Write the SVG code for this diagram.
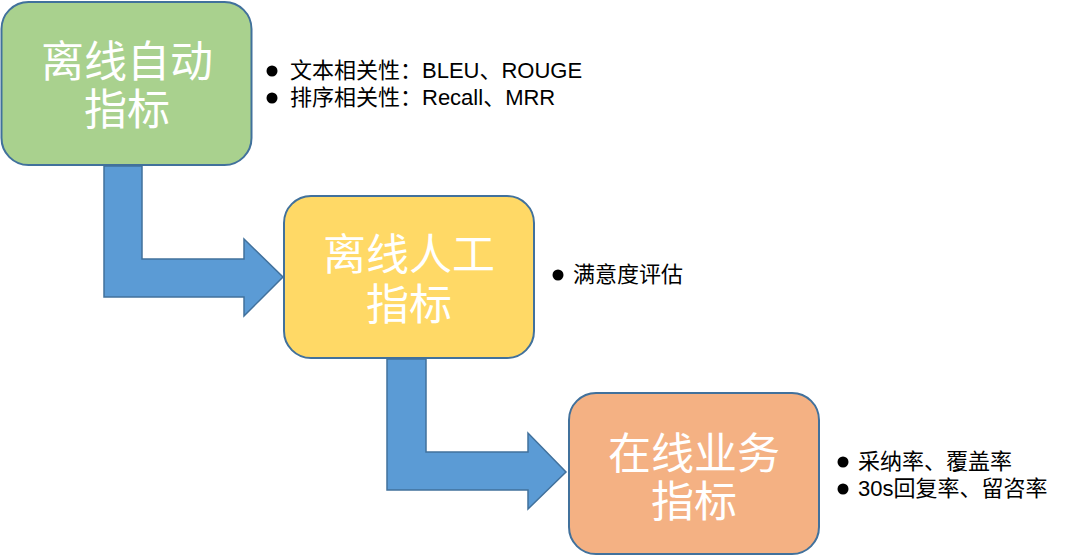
<svg xmlns="http://www.w3.org/2000/svg" width="1080" height="557" viewBox="0 0 1080 557">
<style>
.box{stroke:#41719C;stroke-width:2}
.title{font-family:"Noto Sans CJK SC","Noto Sans",sans-serif;font-size:43px;fill:#FFFFFF;text-anchor:middle}
.item{font-family:"Liberation Sans","Noto Sans CJK SC",sans-serif;font-size:22px;fill:#000000}
.arrow{fill:#5B9BD5;stroke:#41719C;stroke-width:1.5;stroke-linejoin:miter}
.dot{fill:#000000}
</style>
<rect width="1080" height="557" fill="#FFFFFF"/>
<g id="connectors">
<path class="arrow" d="M104,166 L142,166 L142,259 L244,259 L244,239 L283,277 L244,316 L244,297 L104,297 Z"/>
<path class="arrow" d="M387,359 L426,359 L426,452 L528,452 L528,433 L566,472 L528,509 L528,490 L387,490 Z"/>
</g>
<g id="node-offline-auto">
<rect class="box" x="1.5" y="2" width="250" height="163" rx="27" fill="#A9D18E"/>
<text class="title"><tspan x="127" y="77">离线自动</tspan><tspan x="127" y="125">指标</tspan></text>
</g>
<g id="list-offline-auto">
<circle class="dot" cx="272" cy="71" r="5.5"/>
<text class="item" x="290" y="78">文本相关性：BLEU、ROUGE</text>
<circle class="dot" cx="272" cy="98" r="5.5"/>
<text class="item" x="290" y="105">排序相关性：Recall、MRR</text>
</g>
<g id="node-offline-human">
<rect class="box" x="284" y="196" width="250" height="162" rx="27" fill="#FFD966"/>
<text class="title"><tspan x="409" y="270">离线人工</tspan><tspan x="409" y="320">指标</tspan></text>
</g>
<g id="list-offline-human">
<circle class="dot" cx="558" cy="275" r="5.5"/>
<text class="item" x="573" y="282">满意度评估</text>
</g>
<g id="node-online">
<rect class="box" x="569" y="393" width="250" height="161" rx="27" fill="#F4B183"/>
<text class="title"><tspan x="694" y="469">在线业务</tspan><tspan x="694" y="517">指标</tspan></text>
</g>
<g id="list-online">
<circle class="dot" cx="843" cy="462" r="5.5"/>
<text class="item" x="858" y="469">采纳率、覆盖率</text>
<circle class="dot" cx="843" cy="489" r="5.5"/>
<text class="item" x="858" y="496">30s回复率、留咨率</text>
</g>
</svg>
